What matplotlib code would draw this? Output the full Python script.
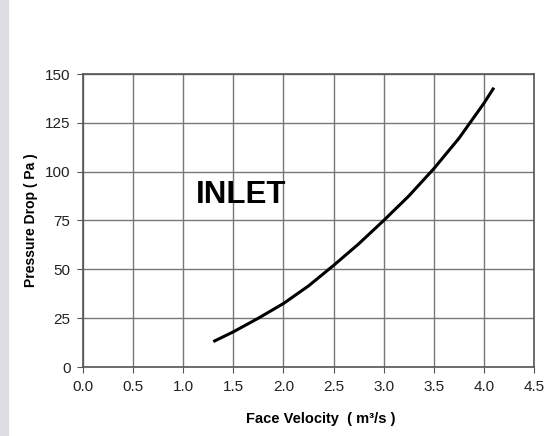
import matplotlib
matplotlib.use("Agg")
import matplotlib.pyplot as plt
from matplotlib.patches import Rectangle

# data
velocity = [1.3, 1.5, 1.75, 2.0, 2.25, 2.5, 2.75, 3.0, 3.25, 3.5, 3.75, 4.0, 4.1]
pressure = [13, 18, 25, 32.5, 41.5, 52, 63, 75, 87.5, 101.5, 117, 135, 143]
x_ticks = [0.0, 0.5, 1.0, 1.5, 2.0, 2.5, 3.0, 3.5, 4.0, 4.5]
y_ticks = [0, 25, 50, 75, 100, 125, 150]

plt.rcParams['font.family'] = ['Liberation Sans', 'DejaVu Sans']

fig = plt.figure(figsize=(5.56, 4.36), dpi=100)
fig.patches.append(Rectangle((0, 0), 8 / 556, 1, transform=fig.transFigure,
                             color='#dcdde0', zorder=0))
ax = fig.add_axes([83 / 556, 1 - 367 / 436, 451 / 556, 293 / 436])

ax.plot(velocity, pressure, color='black', linewidth=2.2, solid_capstyle='butt',
        solid_joinstyle='round')

ax.set_xlim(0, 4.5)
ax.set_ylim(0, 150)
ax.set_xticks(x_ticks)
ax.set_xticklabels(["%.1f" % v for v in x_ticks])
ax.set_yticks(y_ticks)
ax.grid(True, color='#777777', linewidth=1.0)
ax.set_axisbelow(True)
for s in ax.spines.values():
    s.set_color('#555555')
    s.set_linewidth(1.2)
ax.tick_params(length=4, color='#555555', labelsize=11, labelcolor='#222222')
ax.tick_params(axis='x', pad=5)
ax.tick_params(axis='y', pad=5)

ax.set_xlabel("Face Velocity  ( m\u00b3/s )", fontsize=10.5, fontweight='bold')
ax.set_ylabel("Pressure Drop ( Pa )", fontsize=10, fontweight='bold')
ax.xaxis.set_label_coords(0.528, -0.155)
ax.yaxis.set_label_coords(-0.1, 0.5)

ax.text(1.13, 88, "INLET", fontsize=22.5, fontweight='bold', va='center', ha='left')

fig.savefig("out.png", dpi=100)
